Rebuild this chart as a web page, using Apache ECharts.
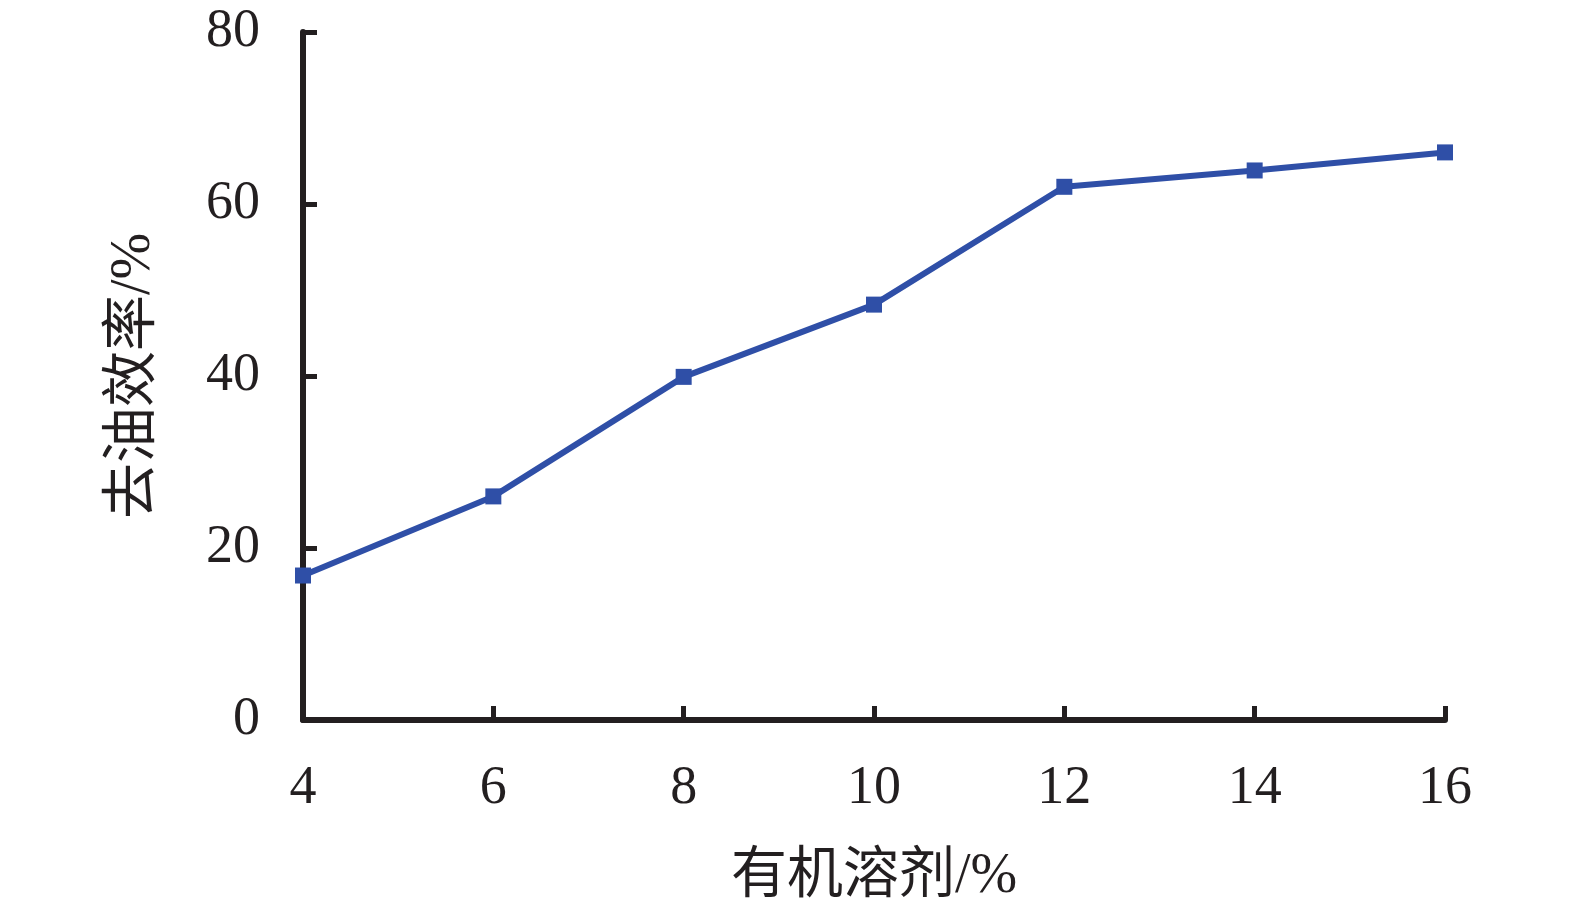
<!DOCTYPE html>
<html><head><meta charset="utf-8">
<script src="https://cdn.jsdelivr.net/npm/echarts@6/dist/echarts.min.js"></script>
<style>html,body{margin:0;padding:0;background:#fff}#c{width:1575px;height:916px}</style>
</head><body><div id="c"></div>
<script>
const solvent = [4, 6, 8, 10, 12, 14, 16];
const efficiency = [16.8, 26.0, 39.9, 48.3, 62.0, 63.9, 66.0];
const xName = '有机溶剂/%';
const yName = '去油效率/%';
const ink = '#231f20';
const font = '"Liberation Serif", "Times New Roman", "Noto Sans CJK SC", serif';
const chart = echarts.init(document.getElementById('c'));
chart.setOption({
  animation: false,
  grid: {left: 303, right: 130, top: 32, bottom: 196, containLabel: false},
  xAxis: {
    type: 'value', min: 4, max: 16, interval: 2,
    name: xName, nameLocation: 'middle', nameGap: 129,
    nameTextStyle: {fontFamily: font, fontSize: 56, color: ink},
    axisLine: {show: true, lineStyle: {color: ink, width: 6}},
    axisTick: {show: true, inside: true, length: 14, lineStyle: {color: ink, width: 5}},
    axisLabel: {fontFamily: font, fontSize: 54, color: ink, margin: 42},
    splitLine: {show: false}
  },
  yAxis: {
    type: 'value', min: 0, max: 80, interval: 20,
    name: yName, nameLocation: 'middle', nameGap: 141, nameRotate: 90,
    nameTextStyle: {fontFamily: font, fontSize: 56, color: ink},
    axisLine: {show: true, lineStyle: {color: ink, width: 6}},
    axisTick: {show: true, inside: true, length: 14, lineStyle: {color: ink, width: 5}},
    axisLabel: {fontFamily: font, fontSize: 54, color: ink, margin: 43},
    splitLine: {show: false}
  },
  series: [{
    type: 'line',
    data: solvent.map((x, i) => [x, efficiency[i]]),
    symbol: 'rect', symbolSize: 16,
    lineStyle: {color: '#2f4fa7', width: 6},
    itemStyle: {color: '#2f4fa7'}
  }]
});
</script></body></html>
